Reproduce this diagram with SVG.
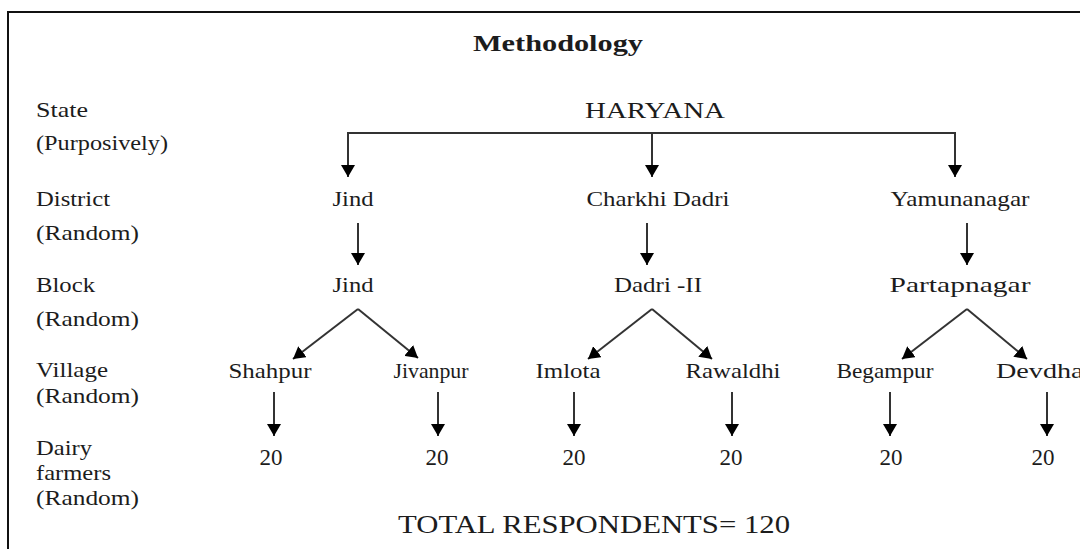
<svg xmlns="http://www.w3.org/2000/svg" width="1080" height="549" viewBox="0 0 1080 549">
<defs>
<style>
text{font-family:"Liberation Serif","Times New Roman",serif;fill:#1c1c1c;font-size:22px}
.c{text-anchor:middle}
.t{font-size:24px;font-weight:bold}
.h{font-size:24px}
.n{font-size:23px}
.tot{font-size:26px}
.ln{stroke:#333;stroke-width:2;fill:none}
.ar{stroke:#333;stroke-width:2;fill:none;marker-end:url(#ah)}
</style>
<marker id="ah" viewBox="0 0 12 14" refX="12" refY="7" markerWidth="12" markerHeight="14" markerUnits="userSpaceOnUse" orient="auto">
<path d="M0,0 L12,7 L0,14 z" fill="#000"/>
</marker>
</defs>
<rect x="0" y="0" width="1080" height="549" fill="#fff"/>
<rect id="frame" x="8" y="12" width="1090" height="560" fill="none" stroke="#111" stroke-width="2"/>

<g id="title"><text class="t c" x="558" y="51" textLength="170" lengthAdjust="spacingAndGlyphs">Methodology</text></g>

<g id="labels">
<text x="36" y="117" textLength="52" lengthAdjust="spacingAndGlyphs">State</text>
<text x="36" y="150" textLength="132" lengthAdjust="spacingAndGlyphs">(Purposively)</text>
<text x="36" y="206" textLength="74" lengthAdjust="spacingAndGlyphs">District</text>
<text x="36" y="240" textLength="103" lengthAdjust="spacingAndGlyphs">(Random)</text>
<text x="36" y="292" textLength="59" lengthAdjust="spacingAndGlyphs">Block</text>
<text x="36" y="326" textLength="103" lengthAdjust="spacingAndGlyphs">(Random)</text>
<text x="36" y="377" textLength="72" lengthAdjust="spacingAndGlyphs">Village</text>
<text x="36" y="403" textLength="103" lengthAdjust="spacingAndGlyphs">(Random)</text>
<text x="36" y="455" textLength="56" lengthAdjust="spacingAndGlyphs">Dairy</text>
<text x="36" y="480" textLength="75" lengthAdjust="spacingAndGlyphs">farmers</text>
<text x="36" y="505" textLength="103" lengthAdjust="spacingAndGlyphs">(Random)</text>
</g>

<g id="connectors">
<line class="ln" x1="348" y1="133" x2="955" y2="133"/>
<line class="ar" x1="348" y1="132" x2="348" y2="177"/>
<line class="ar" x1="652" y1="133" x2="652" y2="177"/>
<line class="ar" x1="955" y1="132" x2="955" y2="177"/>
<line class="ar" x1="358" y1="223" x2="358" y2="265"/>
<line class="ar" x1="647" y1="223" x2="647" y2="265"/>
<line class="ar" x1="967" y1="223" x2="967" y2="265"/>
<line class="ar" x1="358" y1="309" x2="293" y2="359"/>
<line class="ar" x1="358" y1="309" x2="418" y2="358"/>
<line class="ar" x1="652" y1="309" x2="588" y2="359"/>
<line class="ar" x1="652" y1="309" x2="712" y2="359"/>
<line class="ar" x1="967" y1="309" x2="902" y2="359"/>
<line class="ar" x1="967" y1="309" x2="1027" y2="359"/>
<line class="ar" x1="274" y1="392" x2="274" y2="436"/>
<line class="ar" x1="438" y1="392" x2="438" y2="436"/>
<line class="ar" x1="574" y1="392" x2="574" y2="436"/>
<line class="ar" x1="732" y1="392" x2="732" y2="436"/>
<line class="ar" x1="890" y1="392" x2="890" y2="436"/>
<line class="ar" x1="1047" y1="392" x2="1047" y2="436"/>
</g>

<g id="n-haryana"><text class="h c" x="655" y="118" textLength="140" lengthAdjust="spacingAndGlyphs">HARYANA</text></g>

<g id="n-jind-d"><text class="c" x="353" y="206" textLength="41" lengthAdjust="spacingAndGlyphs">Jind</text></g>
<g id="n-charkhi"><text class="c" x="658" y="206" textLength="143" lengthAdjust="spacingAndGlyphs">Charkhi Dadri</text></g>
<g id="n-yamuna"><text class="c" x="960" y="206" textLength="139" lengthAdjust="spacingAndGlyphs">Yamunanagar</text></g>

<g id="n-jind-b"><text class="c" x="353" y="292" textLength="41" lengthAdjust="spacingAndGlyphs">Jind</text></g>
<g id="n-dadri2"><text class="c" x="658" y="292" textLength="88" lengthAdjust="spacingAndGlyphs">Dadri -II</text></g>
<g id="n-partap"><text class="c" x="960" y="292" textLength="141" lengthAdjust="spacingAndGlyphs">Partapnagar</text></g>

<g id="n-shahpur"><text class="c" x="270" y="378" textLength="83" lengthAdjust="spacingAndGlyphs">Shahpur</text></g>
<g id="n-jivanpur"><text class="c" x="431" y="378" textLength="75" lengthAdjust="spacingAndGlyphs">Jivanpur</text></g>
<g id="n-imlota"><text class="c" x="568" y="378" textLength="65" lengthAdjust="spacingAndGlyphs">Imlota</text></g>
<g id="n-rawaldhi"><text class="c" x="733" y="378" textLength="95" lengthAdjust="spacingAndGlyphs">Rawaldhi</text></g>
<g id="n-begampur"><text class="c" x="885" y="378" textLength="97" lengthAdjust="spacingAndGlyphs">Begampur</text></g>
<g id="n-devdhar"><text x="996" y="378" textLength="97" lengthAdjust="spacingAndGlyphs">Devdhar</text></g>

<g id="n-20a"><text class="c n" x="271" y="465">20</text></g>
<g id="n-20b"><text class="c n" x="437" y="465">20</text></g>
<g id="n-20c"><text class="c n" x="574" y="465">20</text></g>
<g id="n-20d"><text class="c n" x="731" y="465">20</text></g>
<g id="n-20e"><text class="c n" x="891" y="465">20</text></g>
<g id="n-20f"><text class="c n" x="1043" y="465">20</text></g>

<g id="total"><text class="tot" x="398" y="533" textLength="392" lengthAdjust="spacingAndGlyphs">TOTAL RESPONDENTS= 120</text></g>
</svg>
